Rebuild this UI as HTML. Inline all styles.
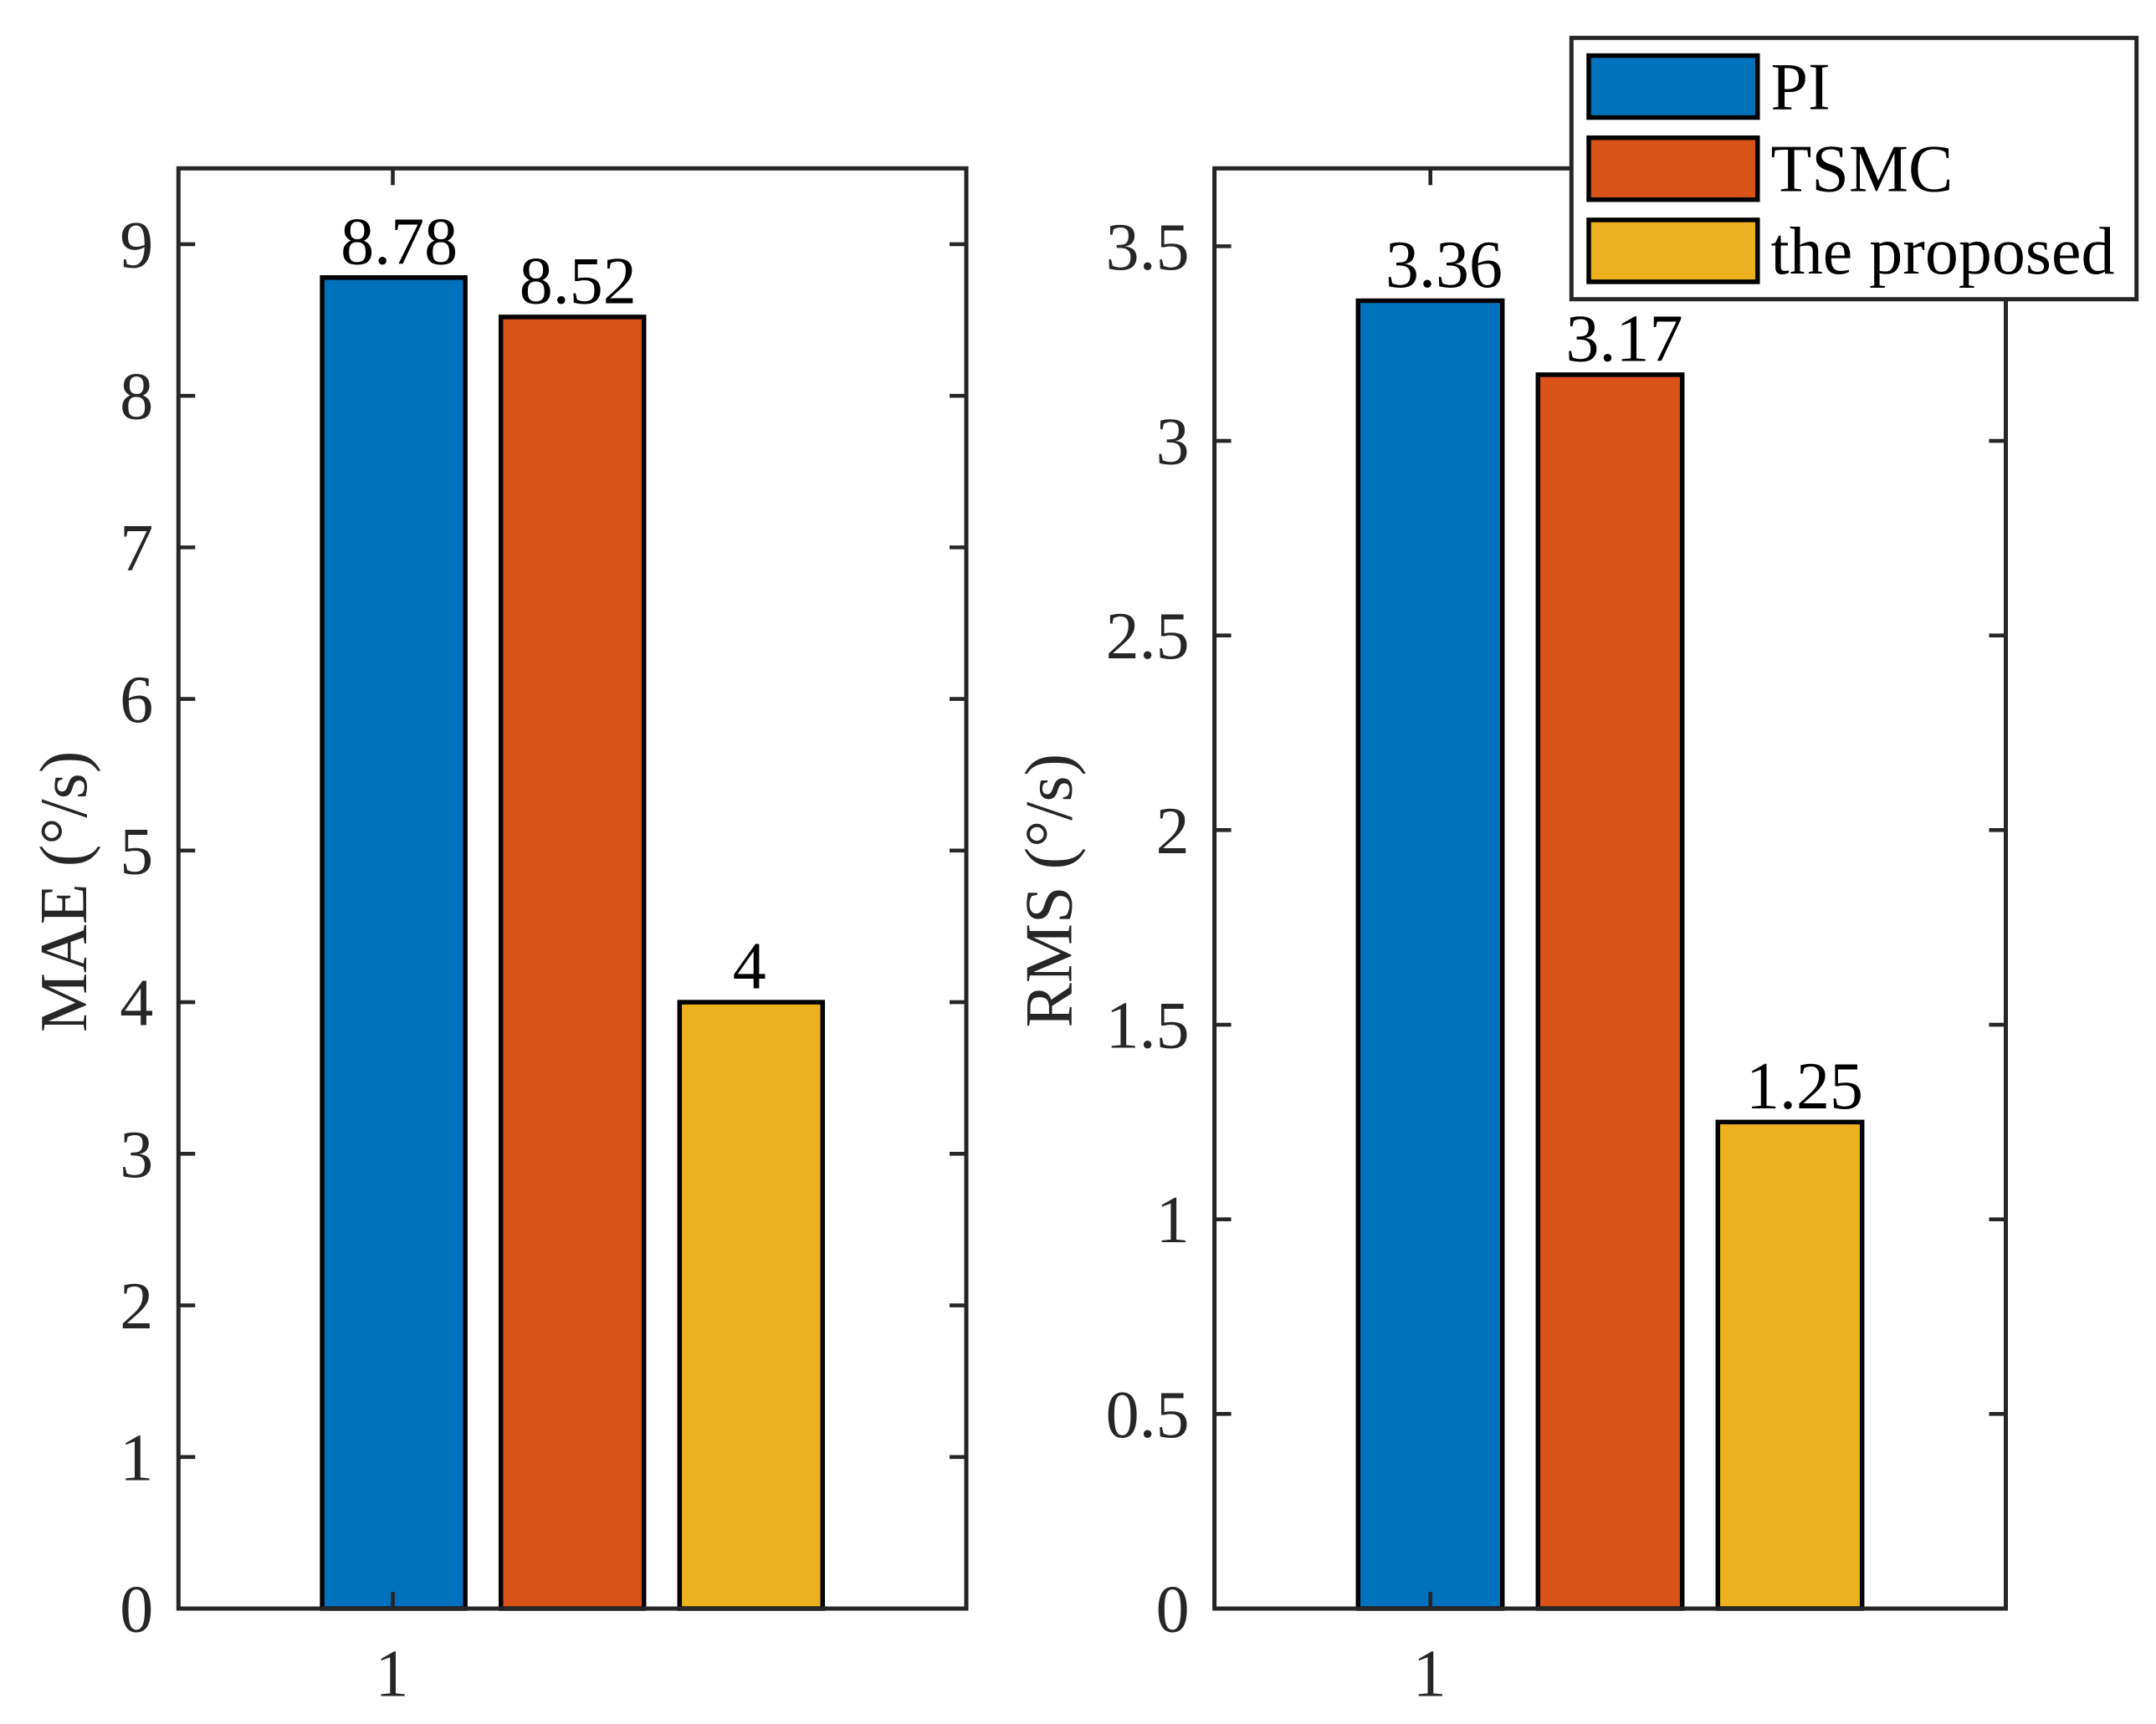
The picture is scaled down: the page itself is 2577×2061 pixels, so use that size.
<!DOCTYPE html>
<html lang="en">
<head>
<meta charset="utf-8">
<title>MAE and RMS comparison</title>
<style>
  html, body { margin: 0; padding: 0; background: #ffffff; }
  #figure { display: block; width: 2577px; height: 2061px; }
  text { font-family: "Liberation Serif", "Times New Roman", serif; font-size: 80px; }
  .tick-text { fill: #262626; }
  .value-text { fill: #000000; }
</style>
</head>
<body>
<svg id="figure" xmlns="http://www.w3.org/2000/svg" width="2577" height="2061" viewBox="0 0 2577 2061">
  <rect x="0" y="0" width="2577" height="2061" fill="#ffffff"/>
</svg>
<script>
// ---- chart data ----
const seriesNames = ['PI', 'TSMC', 'the proposed'];
const maeValues = [8.78, 8.52, 4];
const rmsValues = [3.36, 3.17, 1.25];
const maeTicks = [0, 1, 2, 3, 4, 5, 6, 7, 8, 9];
const rmsTicks = [0, 0.5, 1, 1.5, 2, 2.5, 3, 3.5];
const xTickLabels = ['1'];
const maeAxisMax = 9.5;
const rmsAxisMax = 3.7;

// ---- styling and layout ----
const seriesColors = ['#0072BD', '#D95319', '#EDB120'];
const svg = document.getElementById('figure');
const NS = 'http://www.w3.org/2000/svg';
const axisColor = '#262626';
const plotTop = 201.3;
const plotBottom = 1923;

function shape(tag, attrs, parent) {
  const el = document.createElementNS(NS, tag);
  for (const k in attrs) el.setAttribute(k, attrs[k]);
  (parent || svg).appendChild(el);
  return el;
}

function drawPanel(cfg) {
  const group = shape('g', {});
  
  

  const yScale = function (v) {
    return plotBottom - (v / cfg.yMax) * (plotBottom - plotTop);
  };
  const xScale = function (i) {
    return cfg.firstBarCenter + i * cfg.barSpacing;
  };

  // bars
  cfg.values.forEach(function (v, i) {
    const bar = shape('rect', {
      x: xScale(i) - cfg.barWidth / 2,
      y: yScale(v),
      width: cfg.barWidth,
      height: yScale(0) - yScale(v),
      fill: seriesColors[i],
      stroke: '#000000',
      'stroke-width': 5.5
    }, group);
    
    
  });

  // axes box
  const box = shape('rect', {
    x: cfg.left,
    y: plotTop,
    width: cfg.right - cfg.left,
    height: plotBottom - plotTop,
    fill: 'none',
    stroke: axisColor,
    'stroke-width': 5
  }, group);
  
  

  // y ticks
  cfg.ticks.forEach(function (t) {
    const y = yScale(t);
    const tl = shape('line', { x1: cfg.left, x2: cfg.left + 20, y1: y, y2: y, stroke: axisColor, 'stroke-width': 4.6 }, group);
    
    
    const tr = shape('line', { x1: cfg.right, x2: cfg.right - 20, y1: y, y2: y, stroke: axisColor, 'stroke-width': 4.6 }, group);
    
    
    const label = shape('text', { x: cfg.left - 30, y: y + 27.5, 'text-anchor': 'end', class: 'tick-text' }, group);
    label.textContent = String(t);
    
    
  });

  // x ticks
  xTickLabels.forEach(function (t) {
    const tb = shape('line', { x1: cfg.xTick, x2: cfg.xTick, y1: plotBottom, y2: plotBottom - 20, stroke: axisColor, 'stroke-width': 4.6 }, group);
    
    
    const tt = shape('line', { x1: cfg.xTick, x2: cfg.xTick, y1: plotTop, y2: plotTop + 20, stroke: axisColor, 'stroke-width': 4.6 }, group);
    
    
    const lab = shape('text', { x: cfg.xTick - 1, y: 2027.7, 'text-anchor': 'middle', class: 'tick-text' }, group);
    lab.textContent = t;
    
    
  });

  // y axis title
  const title = shape('text', {
    x: 0, y: 0,
    class: 'tick-text',
    transform: 'translate(' + cfg.titleX + ' ' + cfg.titleY + ') rotate(-90)'
  }, group);
  title.textContent = cfg.title;
  
  

  // value labels above bars
  cfg.values.forEach(function (v, i) {
    const val = shape('text', {
      x: xScale(i) + cfg.labelShift[i],
      y: yScale(v) - 16.5,
      'text-anchor': 'middle',
      class: 'value-text'
    }, group);
    val.textContent = String(v);
    
    
  });
}

drawPanel({
  key: 'mae', title: 'MAE (°/s)', values: maeValues, ticks: maeTicks, yMax: maeAxisMax,
  left: 213.3, right: 1155, xTick: 469.5,
  firstBarCenter: 470.6, barSpacing: 213.6, barWidth: 171,
  labelShift: [6.5, 6.5, -2], titleX: 103, titleY: 1234
});

drawPanel({
  key: 'rms', title: 'RMS (°/s)', values: rmsValues, ticks: rmsTicks, yMax: rmsAxisMax,
  left: 1451.6, right: 2397.5, xTick: 1709.7,
  firstBarCenter: 1709.5, barSpacing: 215, barWidth: 172.4,
  labelShift: [16.5, 17, 17.5], titleX: 1280.7, titleY: 1228.5
});

// legend
const legend = shape('g', {});


const legendBox = shape('rect', { x: 1878.3, y: 45.3, width: 675.4, height: 312.4, fill: '#ffffff', stroke: axisColor, 'stroke-width': 5 }, legend);


seriesNames.forEach(function (name, i) {
  const rowTop = 66.5 + i * 98.2;
  const patch = shape('rect', { x: 1899, y: rowTop, width: 201.8, height: 74, fill: seriesColors[i], stroke: '#000000', 'stroke-width': 5.5 }, legend);
  
  
  const text = shape('text', { x: 2116.5, y: rowTop + 64, class: 'value-text' }, legend);
  text.textContent = name;
  
  
});
</script>
</body>
</html>
